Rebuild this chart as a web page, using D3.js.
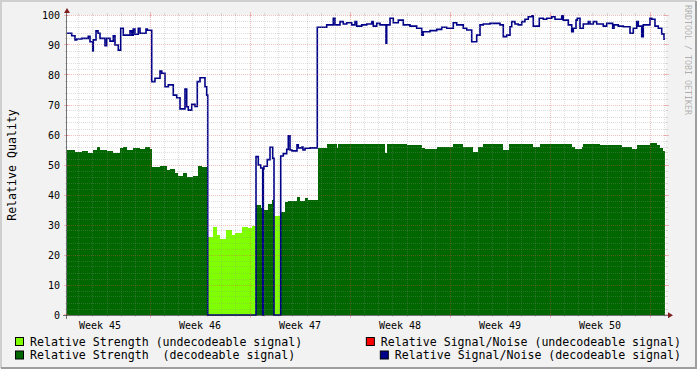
<!DOCTYPE html>
<html>
<head>
<meta charset="utf-8">
<script src="https://cdn.jsdelivr.net/npm/d3@7"></script>
<style>
  html, body { margin: 0; padding: 0; background: #f2f2f2; }
  svg { display: block; font-family: "DejaVu Sans Mono", monospace; }
  text { white-space: pre; }
</style>
</head>
<body>
<div id="chart"></div>
<script>
// times are days from the left edge of the graph, values are step values
var snDays = [
  0, 0.33, 0.56, 0.68, 1.03, 1.49, 1.61, 1.80, 1.84, 2.03,
  2.17, 2.31, 2.66, 2.78, 3.01, 3.24, 3.36, 3.59, 3.76, 3.94,
  4.41, 4.53, 4.64, 4.76, 4.99, 5.11, 5.53, 5.62, 5.93, 6.16,
  6.51, 6.63, 6.86, 7.09, 7.44, 7.68, 7.91, 8.26, 8.38, 8.49,
  8.73, 8.96, 9.12, 9.31, 9.66, 9.78, 9.85, 13.23, 13.39, 13.56,
  13.70, 13.74, 13.79, 14.02, 14.21, 14.40, 14.49, 14.96, 15.14, 15.38,
  15.49, 15.61, 15.75, 16.10, 16.19, 16.45, 16.52, 16.66, 17.01, 17.52,
  18.18, 18.64, 18.76, 19.11, 19.34, 19.58, 19.93, 20.16, 20.28, 20.63,
  20.98, 21.33, 21.44, 21.68, 21.91, 22.33, 22.38, 22.61, 22.84, 23.19,
  23.54, 24.01, 24.48, 24.83, 24.94, 25.41, 25.88, 26.23, 26.58, 27.04,
  27.28, 27.74, 27.98, 28.33, 28.68, 28.91, 29.14, 29.61, 30.31, 30.54,
  30.78, 31.01, 31.13, 31.36, 31.59, 31.83, 32.06, 32.29, 32.53, 32.64,
  33.06, 33.34, 33.58, 33.93, 34.16, 34.63, 34.74, 35.09, 35.33, 35.44,
  35.63, 35.72, 35.91, 36.14, 36.49, 36.61, 36.84, 37.08, 37.54, 37.78,
  38.20, 38.29, 38.59, 38.94, 39.41, 39.64, 39.88, 39.99, 40.23, 40.34,
  40.81, 40.93, 41.16, 41.39, 41.63, 41.79
];
var snValues = [
  93.9, 93.1, 91.7, 92, 92.2, 92.9, 91.1, 88, 91.7, 94.7,
  93.9, 92.2, 89.8, 92.2, 91.3, 93.1, 90, 88.3, 95.6, 93.3,
  94.7, 93.3, 95.3, 93.6, 95.6, 93.9, 95.3, 94.9, 77.8, 78.9,
  81.3, 80.6, 76.1, 76.7, 73.3, 72.4, 68.7, 75.3, 69.4, 68.3,
  70.2, 69.5, 77.8, 79.1, 76.1, 73.3, 0, 52.8, 50, 49,
  0, 48.7, 49.6, 51.8, 55.9, 52.2, 0, 53, 53.8, 55.2,
  59.7, 55, 54.7, 56.7, 55.7, 56, 55, 55.6, 55.7, 95.9,
  96.7, 98.9, 96.7, 97.8, 97, 97.4, 96.7, 97.8, 96.3, 96.7,
  97, 97.8, 96.3, 97.2, 96.7, 90.6, 96.7, 98.9, 97.4, 98.3,
  96.7, 96.3, 95.6, 93.3, 94.4, 94.8, 95.2, 95.9, 95.6, 97.4,
  96.7, 95.6, 95, 91.1, 93.3, 96.7, 97, 97.2, 96.7, 92.8,
  93.3, 96.1, 97.8, 97, 96.7, 97.8, 98.6, 99.4, 99.7, 96.3,
  98.9, 98.6, 98.9, 99.4, 98.6, 99.7, 98.3, 96.7, 94.4, 95.6,
  98.3, 98.9, 95.6, 97, 97.8, 97, 97.8, 97, 96.3, 97.2,
  95.6, 96.7, 96.3, 96.1, 93.9, 95.6, 97.8, 96.3, 92.8, 96.7,
  98.9, 98.6, 96.3, 95.6, 93.7, 91.9
];

var strDays = [
  0, 0.56, 1.03, 1.49, 1.84, 2.08, 2.31, 2.78, 3.24, 3.71,
  3.94, 4.18, 4.64, 5.11, 5.46, 5.81, 5.93, 6.51, 6.98, 7.21,
  7.56, 7.79, 8.14, 8.38, 8.84, 9.19, 9.43, 9.85, 10.24, 10.48,
  10.71, 11.13, 11.53, 11.76, 12.23, 12.69, 12.93, 13.23, 13.56, 13.79,
  14.09, 14.33, 14.49, 14.96, 15.26, 15.49, 16.08, 16.31, 16.66, 16.89,
  17.57, 18.18, 18.88, 18.99, 22.26, 22.38, 23.78, 24.83, 25.06, 25.88,
  27.04, 27.74, 28.44, 28.79, 29.14, 30.54, 30.96, 32.64, 33.11, 35.33,
  35.56, 36.03, 36.14, 37.31, 38.83, 39.53, 39.88, 40.81, 41.28, 41.51,
  41.74
];
var strValues = [
  55, 54.4, 54.8, 54.1, 55, 55.9, 55, 54.8, 54.1, 55.6,
  56.1, 55, 55.6, 55.2, 55.9, 55.2, 49.2, 49.7, 48.3, 48.6,
  47.2, 46.3, 47.2, 45.9, 46.3, 49.7, 49.2, 26.1, 29.2, 26.7,
  25.2, 28.3, 26.7, 27.4, 29.4, 28.9, 29.7, 36.7, 35.6, 35,
  37, 38.3, 33, 34.4, 37.8, 38.1, 39.4, 38.1, 38.9, 38.5,
  55.8, 56.9, 55.8, 56.9, 54.1, 56.9, 56.6, 55.8, 55.4, 56.1,
  56.9, 56.1, 54.3, 56.1, 56.9, 55, 56.9, 56.1, 56.9, 56.1,
  55.4, 56.1, 56.9, 56.6, 56.1, 55.4, 56.6, 57.2, 56.6, 55.8,
  54.7
];
// 1 = signal decoded, 0 = undecodeable
var strDecoded = [
  1, 1, 1, 1, 1, 1, 1, 1, 1, 1,
  1, 1, 1, 1, 1, 1, 1, 1, 1, 1,
  1, 1, 1, 1, 1, 1, 1, 0, 0, 0,
  0, 0, 0, 0, 0, 0, 0, 1, 1, 1,
  1, 1, 0, 1, 1, 1, 1, 1, 1, 1,
  1, 1, 1, 1, 1, 1, 1, 1, 1, 1,
  1, 1, 1, 1, 1, 1, 1, 1, 1, 1,
  1, 1, 1, 1, 1, 1, 1, 1, 1, 1,
  1
];

var yTicks = [0, 10, 20, 30, 40, 50, 60, 70, 80, 90, 100];
var legendLabels = [
  "Relative Strength (undecodeable signal)",
  "Relative Signal/Noise (undecodeable signal)",
  "Relative Strength  (decodeable signal)",
  "Relative Signal/Noise (decodeable signal)"
];
var legendColors = ["#80ff00", "#ff0000", "#006600", "#000088"];

var W = 697, H = 369;
var plotL = 67, plotR = 666, plotT = 15, plotB = 315;
var dayMs = 864e5;
var t0 = Date.UTC(2010, 10, 15) - 5.81 * dayMs;
var endDay = 41.86;
var spanDays = 41.93;

function toDate(d) {
  return new Date(t0 + d * dayMs);
}
function snap(v) {
  return Math.floor(v) + 0.5;
}

var svg = d3.select("#chart").append("svg").attr("width", W).attr("height", H);

svg.append("rect").attr("width", W).attr("height", H).attr("fill", "#f2f2f2");
svg.append("path").attr("d", "M1,368V1H696").attr("fill", "none").attr("stroke", "#cfcfcf").attr("stroke-width", 2);
svg.append("path").attr("d", "M1,368H696V1").attr("fill", "none").attr("stroke", "#9e9e9e").attr("stroke-width", 2);

var x = d3.scaleUtc().domain([toDate(0), toDate(spanDays)]).range([plotL, plotR]);
var y = d3.scaleLinear().domain([0, 100]).range([plotB, plotT]);

svg.append("rect")
  .attr("x", plotL).attr("y", plotT)
  .attr("width", plotR - plotL).attr("height", plotB - plotT)
  .attr("fill", "#ffffff");

// turn step data into drawable points, null breaks the path
function stepPoints(days, values, keep) {
  var pts = [];
  days.forEach(function (d, i) {
    if (!keep(i)) { pts.push(null); return; }
    var next = i + 1 < days.length ? days[i + 1] : endDay;
    pts.push([d, values[i]], [next, values[i]]);
  });
  return pts;
}

var area = d3.area()
  .defined(function (p) { return p !== null; })
  .x(function (p) { return x(toDate(p[0])); })
  .y0(y(0))
  .y1(function (p) { return y(p[1]); });

svg.append("path")
  .attr("d", area(stepPoints(strDays, strValues, function (i) { return strDecoded[i] === 1; })))
  .attr("fill", legendColors[2])
  .attr("shape-rendering", "crispEdges");

svg.append("path")
  .attr("d", area(stepPoints(strDays, strValues, function (i) { return strDecoded[i] === 0; })))
  .attr("fill", legendColors[0])
  .attr("shape-rendering", "crispEdges");

var line = d3.line()
  .defined(function (p) { return p !== null; })
  .x(function (p) { return x(toDate(p[0])); })
  .y(function (p) { return y(p[1]); });

svg.append("path")
  .attr("d", line(stepPoints(snDays, snValues, function () { return true; })))
  .attr("fill", "none")
  .attr("stroke", legendColors[3])
  .attr("stroke-width", 1.6);

// grid on top of the data, like rrdtool
var minorCol = "rgba(143,143,143,0.75)";
var majorCol = "rgba(222,79,79,0.6)";
var grid = svg.append("g");

var dayLines = d3.utcDay.range(toDate(0), toDate(spanDays)).filter(function (d) { return d.getUTCDay() !== 1; });
var weekLines = d3.utcMonday.range(toDate(0), toDate(spanDays));

dayLines.forEach(function (d) {
  var xx = snap(x(d));
  grid.append("line").attr("x1", xx).attr("x2", xx).attr("y1", plotT).attr("y2", plotB)
    .attr("stroke", minorCol).attr("stroke-width", 0.4).attr("stroke-dasharray", "1,1");
  grid.append("line").attr("x1", xx).attr("x2", xx).attr("y1", plotB).attr("y2", plotB + 2)
    .attr("stroke", minorCol).attr("stroke-width", 0.4);
  grid.append("line").attr("x1", xx).attr("x2", xx).attr("y1", plotT - 2).attr("y2", plotT)
    .attr("stroke", minorCol).attr("stroke-width", 0.4);
});

d3.range(2, 100, 2).filter(function (v) { return v % 10 !== 0; }).forEach(function (v) {
  var yy = snap(y(v));
  grid.append("line").attr("x1", plotL).attr("x2", plotR).attr("y1", yy).attr("y2", yy)
    .attr("stroke", minorCol).attr("stroke-width", 0.4).attr("stroke-dasharray", "1,1");
  grid.append("line").attr("x1", plotL - 2).attr("x2", plotL).attr("y1", yy).attr("y2", yy)
    .attr("stroke", minorCol).attr("stroke-width", 0.4);
  grid.append("line").attr("x1", plotR).attr("x2", plotR + 2).attr("y1", yy).attr("y2", yy)
    .attr("stroke", minorCol).attr("stroke-width", 0.4);
});

weekLines.forEach(function (d) {
  var xx = snap(x(d));
  grid.append("line").attr("x1", xx).attr("x2", xx).attr("y1", plotT).attr("y2", plotB)
    .attr("stroke", majorCol).attr("stroke-width", 0.6).attr("stroke-dasharray", "1,1");
  grid.append("line").attr("x1", xx).attr("x2", xx).attr("y1", plotB - 2).attr("y2", plotB + 3)
    .attr("stroke", majorCol).attr("stroke-width", 0.6);
  grid.append("line").attr("x1", xx).attr("x2", xx).attr("y1", plotT - 3).attr("y2", plotT + 2)
    .attr("stroke", majorCol).attr("stroke-width", 0.6);
});

yTicks.forEach(function (v) {
  var yy = snap(y(v)) - (v === 0 ? 1 : 0);
  if (v > 0) {
    grid.append("line").attr("x1", plotL).attr("x2", plotR).attr("y1", yy).attr("y2", yy)
      .attr("stroke", majorCol).attr("stroke-width", 0.6).attr("stroke-dasharray", "1,1");
  }
  grid.append("line").attr("x1", plotL - 3).attr("x2", plotL + 2).attr("y1", yy).attr("y2", yy)
    .attr("stroke", majorCol).attr("stroke-width", 0.6);
  grid.append("line").attr("x1", plotR - 2).attr("x2", plotR + 3).attr("y1", yy).attr("y2", yy)
    .attr("stroke", majorCol).attr("stroke-width", 0.6);
});

// axes with arrows
svg.append("line").attr("x1", plotL - 4).attr("x2", plotR + 4).attr("y1", plotB + 0.5).attr("y2", plotB + 0.5)
  .attr("stroke", "#1f1f1f").attr("stroke-width", 0.6);
svg.append("line").attr("x1", plotL - 0.5).attr("x2", plotL - 0.5).attr("y1", plotB + 4).attr("y2", plotT - 4)
  .attr("stroke", "#1f1f1f").attr("stroke-width", 0.6);
svg.append("path")
  .attr("d", "M" + (plotR + 2) + "," + (plotB - 2.7) + "L" + (plotR + 2) + "," + (plotB + 3.3) + "L" + (plotR + 7) + "," + (plotB + 0.3) + "Z")
  .attr("fill", "#7f1f1f");
svg.append("path")
  .attr("d", "M" + (plotL - 3) + "," + (plotT - 2) + "L" + (plotL + 3) + "," + (plotT - 2) + "L" + plotL + "," + (plotT - 7) + "Z")
  .attr("fill", "#7f1f1f");

// tick labels
svg.append("g").selectAll("text").data(yTicks).enter().append("text")
  .attr("x", 60)
  .attr("y", function (v) { return y(v) + 3.5; })
  .attr("text-anchor", "end")
  .attr("font-size", "10px")
  .attr("fill", "#000")
  .text(function (v) { return v; });

var weekStarts = d3.utcMonday.range(d3.utcMonday.offset(toDate(0), -1), toDate(spanDays));
function midWeek(d) {
  return new Date(d.getTime() + 3.5 * dayMs);
}
svg.append("g").selectAll("text")
  .data(weekStarts.filter(function (d) {
    var cx = x(midWeek(d));
    return cx > plotL && cx < plotR;
  }))
  .enter().append("text")
  .attr("x", function (d) { return x(midWeek(d)); })
  .attr("y", 328.5)
  .attr("text-anchor", "middle")
  .attr("font-size", "10px")
  .attr("fill", "#000")
  .text(function (d) { return "Week " + d3.utcFormat("%V")(midWeek(d)); });

svg.append("text")
  .attr("transform", "translate(15.5," + (plotT + plotB) / 2 + ") rotate(-90)")
  .attr("text-anchor", "middle")
  .attr("font-size", "11.6px")
  .attr("fill", "#000")
  .text("Relative Quality");

svg.append("text")
  .attr("transform", "translate(684.5,5) rotate(90)")
  .attr("font-size", "8.3px")
  .attr("fill", "#000")
  .attr("fill-opacity", 0.3)
  .text("RRDTOOL / TOBI OETIKER");

// legend
var leg = svg.append("g").attr("font-size", "11.6px");
legendLabels.forEach(function (label, i) {
  var row = Math.floor(i / 2);
  var base = 345.5 + row * 13.5;
  var t = leg.append("text").attr("y", base).attr("fill", "#000").text(label);
  var tx;
  if (i % 2 === 0) {
    tx = 30;
    t.attr("x", tx);
  } else {
    t.attr("x", 681).attr("text-anchor", "end");
    tx = 681 - t.node().getComputedTextLength();
  }
  leg.append("rect")
    .attr("x", tx - 14.5).attr("y", base - 8)
    .attr("width", 8).attr("height", 8)
    .attr("fill", legendColors[i])
    .attr("stroke", "#000").attr("stroke-width", 1);
});
</script>
</body>
</html>
